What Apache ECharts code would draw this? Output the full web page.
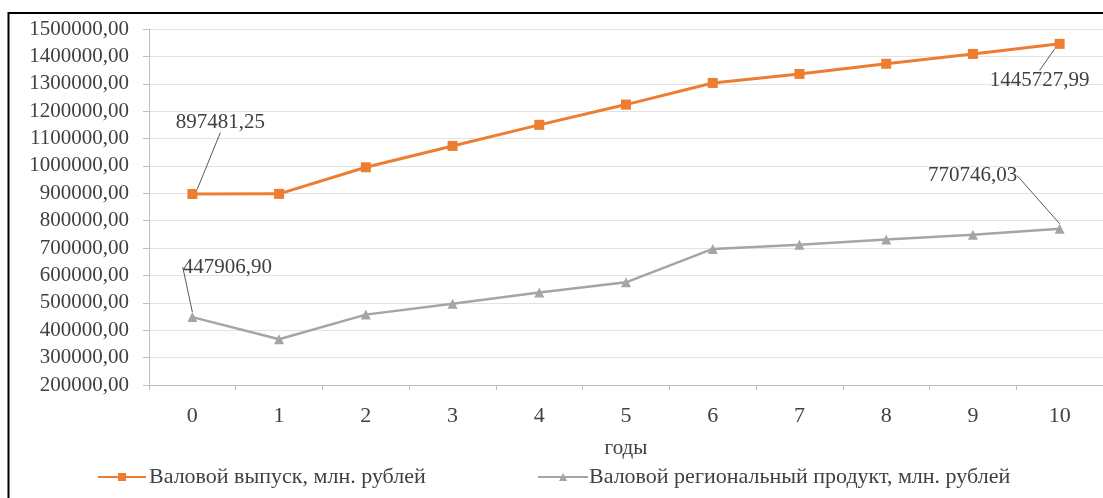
<!DOCTYPE html>
<html>
<head>
<meta charset="utf-8">
<script src="https://cdn.jsdelivr.net/npm/echarts@6/dist/echarts.min.js"></script>
<style>
html,body{margin:0;padding:0;background:#fff;}
#chart{width:1103px;height:498px;}
</style>
</head>
<body>
<div id="chart"></div>
<script>
const categories = ['0','1','2','3','4','5','6','7','8','9','10'];
const grossOutput = [897481.25, 898000, 995000, 1073000, 1150000, 1224000, 1303000, 1336000, 1373000, 1409000, 1445727.99];
const grp = [447906.90, 367000, 457000, 497000, 538000, 575000, 697000, 712000, 731000, 749000, 770746.03];
const seriesNames = ['Валовой выпуск, млн. рублей', 'Валовой региональный продукт, млн. рублей'];
const axisName = 'годы';
const yMin = 200000, yMax = 1500000, yStep = 100000;
const labelledIdx = [0, 10];

const FONT = '"Liberation Serif", "Times New Roman", serif';
const fmt = v => v.toFixed(2).replace('.', ',');

// label offsets (dx, dy) relative to the point, per series, per labelled index
const labelOffsets = [
  {0: [28, -72], 10: [-20, 37]},
  {0: [35, -50], 10: [-87, -53]}
];

function mkData(arr) {
  return arr.map((v, i) => labelledIdx.includes(i)
    ? {value: v, label: {show: true}}
    : {value: v});
}

const chart = echarts.init(document.getElementById('chart'), null, {renderer: 'canvas'});
chart.setOption({
  animation: false,
  backgroundColor: '#fff',
  textStyle: {fontFamily: FONT},
  grid: {left: 149, right: -10, top: 29, bottom: 113, containLabel: false},
  xAxis: {
    type: 'category',
    data: categories,
    boundaryGap: true,
    name: axisName,
    nameLocation: 'middle',
    nameGap: 53,
    nameTextStyle: {fontFamily: FONT, fontSize: 21, color: '#404040'},
    axisLine: {lineStyle: {color: '#bfbfbf', width: 1}},
    axisTick: {show: true, alignWithLabel: false, length: 5, lineStyle: {color: '#bfbfbf'}},
    axisLabel: {fontFamily: FONT, fontSize: 22, color: '#404040', margin: 20},
    splitLine: {show: false}
  },
  yAxis: {
    type: 'value',
    min: yMin, max: yMax, interval: yStep,
    axisLine: {show: true, lineStyle: {color: '#bfbfbf', width: 1}},
    axisTick: {show: true, length: 6, lineStyle: {color: '#bfbfbf'}},
    axisLabel: {fontFamily: FONT, fontSize: 21, color: '#404040', margin: 20, formatter: v => fmt(v)},
    splitLine: {show: true, lineStyle: {color: '#e3e3e3', width: 1}}
  },
  legend: [
    {
      data: [seriesNames[0]], left: 97, top: 466, padding: 0,
      itemWidth: 48, itemHeight: 10, itemGap: 0,
      textStyle: {fontFamily: FONT, fontSize: 22, color: '#404040', padding: [0, 0, 0, -2]}
    },
    {
      data: [seriesNames[1]], left: 537, top: 466, padding: 0,
      itemWidth: 50, itemHeight: 10, itemGap: 0,
      textStyle: {fontFamily: FONT, fontSize: 22, color: '#404040', padding: [0, 0, 0, -4]}
    }
  ],
  series: [
    {
      name: seriesNames[0], type: 'line', data: mkData(grossOutput),
      symbol: 'rect', symbolSize: 10,
      itemStyle: {color: '#ED7D31'},
      lineStyle: {color: '#ED7D31', width: 3},
      label: {show: false, position: 'inside', formatter: p => fmt(p.value),
        fontFamily: FONT, fontSize: 21, color: '#404040'},
      labelLine: {show: true, lineStyle: {color: '#595959', width: 1}},
      labelLayout: p => { const o = labelOffsets[0][p.dataIndex]; return o ? {dx: o[0], dy: o[1]} : {}; },
      z: 3
    },
    {
      name: seriesNames[1], type: 'line', data: mkData(grp),
      symbol: 'triangle', symbolSize: 10,
      itemStyle: {color: '#A5A5A5'},
      lineStyle: {color: '#A5A5A5', width: 2.5},
      label: {show: false, position: 'inside', formatter: p => fmt(p.value),
        fontFamily: FONT, fontSize: 21, color: '#404040'},
      labelLine: {show: true, lineStyle: {color: '#595959', width: 1}},
      labelLayout: p => { const o = labelOffsets[1][p.dataIndex]; return o ? {dx: o[0], dy: o[1]} : {}; },
      z: 2
    }
  ],
  graphic: [
    {
      type: 'polyline', silent: true, z: 100,
      shape: {points: [[8.5, 498], [8.5, 13], [1103, 13]]},
      style: {stroke: '#000', lineWidth: 2, fill: null}
    }
  ]
});
</script>
</body>
</html>
